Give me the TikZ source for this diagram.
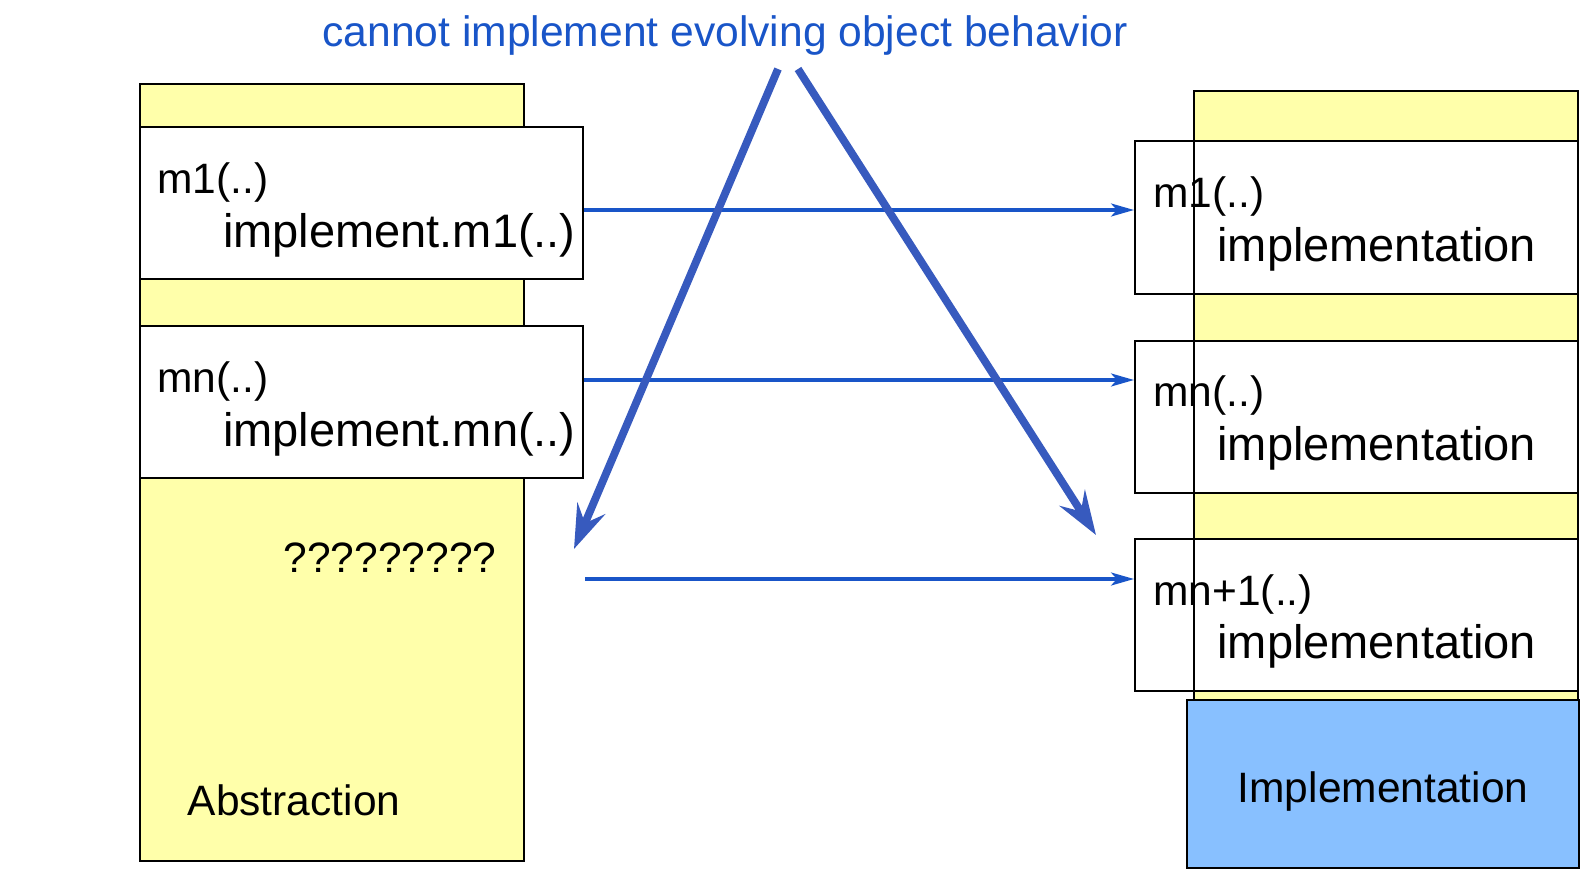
\documentclass[tikz,border=0pt]{standalone}
\usepackage{fontspec}
\setmainfont{Liberation Sans}
\usetikzlibrary{arrows.meta}
\usepackage{xcolor}

\definecolor{absyellow}{RGB}{255,255,170}
\definecolor{implblue}{RGB}{136,192,255}
\definecolor{linkblue}{RGB}{25,85,200}
\definecolor{bigblue}{RGB}{55,90,190}

\tikzset{
  methodbox/.style={draw, line width=1pt, fill=white, minimum width=221.5pt, minimum height=76pt, inner sep=0pt},
  lbl/.style={inner sep=0pt, font=\fontsize{21.25pt}{25pt}\selectfont},
  biglbl/.style={inner sep=0pt, font=\fontsize{23.5pt}{28pt}\selectfont},
  link/.style={draw=linkblue, line width=1.6pt, -{Stealth[length=11.5pt,width=6.5pt,inset=3pt]}},
  bigarrow/.style={draw=bigblue, line width=3.9pt, -{Stealth[length=22pt,width=15pt,inset=8pt]}}
}

\begin{document}
\begin{tikzpicture}[x=0.5pt,y=-0.5pt]
    \useasboundingbox (0,0) rectangle (1590,888);

    % Title
    \node[font=\fontsize{21.3pt}{25pt}\selectfont, text=linkblue] (title) at (725,35) {cannot implement evolving object behavior};

    % Abstraction side
    \draw[line width=1pt, fill=absyellow] (140,84) rectangle (524,861);
    \node[methodbox] (am1) at (361.5,203) {};
    \node[methodbox] (am2) at (361.5,402) {};
    \node[lbl, anchor=west] (am1a) at (157,183) {m1(..)};
    \node[biglbl, anchor=east] (am1b) at (576,235) {implement.m1(..)};
    \node[lbl, anchor=west] (am2a) at (157,381) {mn(..)};
    \node[biglbl, anchor=east] (am2b) at (576,434) {implement.mn(..)};
    \node[lbl] (qmarks) at (390,558) {?????????};
    \node[lbl] (absname) at (294,800) {Abstraction};

    % Implementation side
    \draw[line width=1pt, fill=absyellow] (1194,91) rectangle (1578,700);
    \node[methodbox] (im1) at (1356.5,217.5) {};
    \node[methodbox] (im2) at (1356.5,416.5) {};
    \node[methodbox] (im3) at (1356.5,615) {};
    \draw[line width=1pt] (1194,91) rectangle (1578,700);
    \node[lbl, anchor=west] (im1a) at (1153,197) {m1(..)};
    \node[biglbl, anchor=west] (im1b) at (1217,249) {implementation};
    \node[lbl, anchor=west] (im2a) at (1153,395) {mn(..)};
    \node[biglbl, anchor=west] (im2b) at (1217,448) {implementation};
    \node[lbl, anchor=west] (im3a) at (1153,594) {mn+1(..)};
    \node[biglbl, anchor=west] (im3b) at (1217,646) {implementation};
    \node[draw, line width=1pt, fill=implblue, minimum width=196pt, minimum height=84pt] (impl) at (1383,784) {};
    \node[lbl] (implname) at (1383,792) {Implementation};

    % Forwarding arrows
    \coordinate (s1) at (am1.east |- 0,210);
    \coordinate (s2) at (am2.east |- 0,380);
    \coordinate (s3) at (585,579);
    \draw[link] (s1) -- (s1 -| im1.west);
    \draw[link] (s2) -- (s2 -| im2.west);
    \draw[link] (s3) -- (s3 -| im3.west);

    % Thick arrows
    \coordinate (t1) at (778,69);
    \coordinate (t2) at (798,69);
    \coordinate (e1) at (574,549);
    \coordinate (e2) at (1096,535);
    \draw[bigarrow] (t1) -- (e1);
    \draw[bigarrow] (t2) -- (e2);
\end{tikzpicture}
\end{document}
